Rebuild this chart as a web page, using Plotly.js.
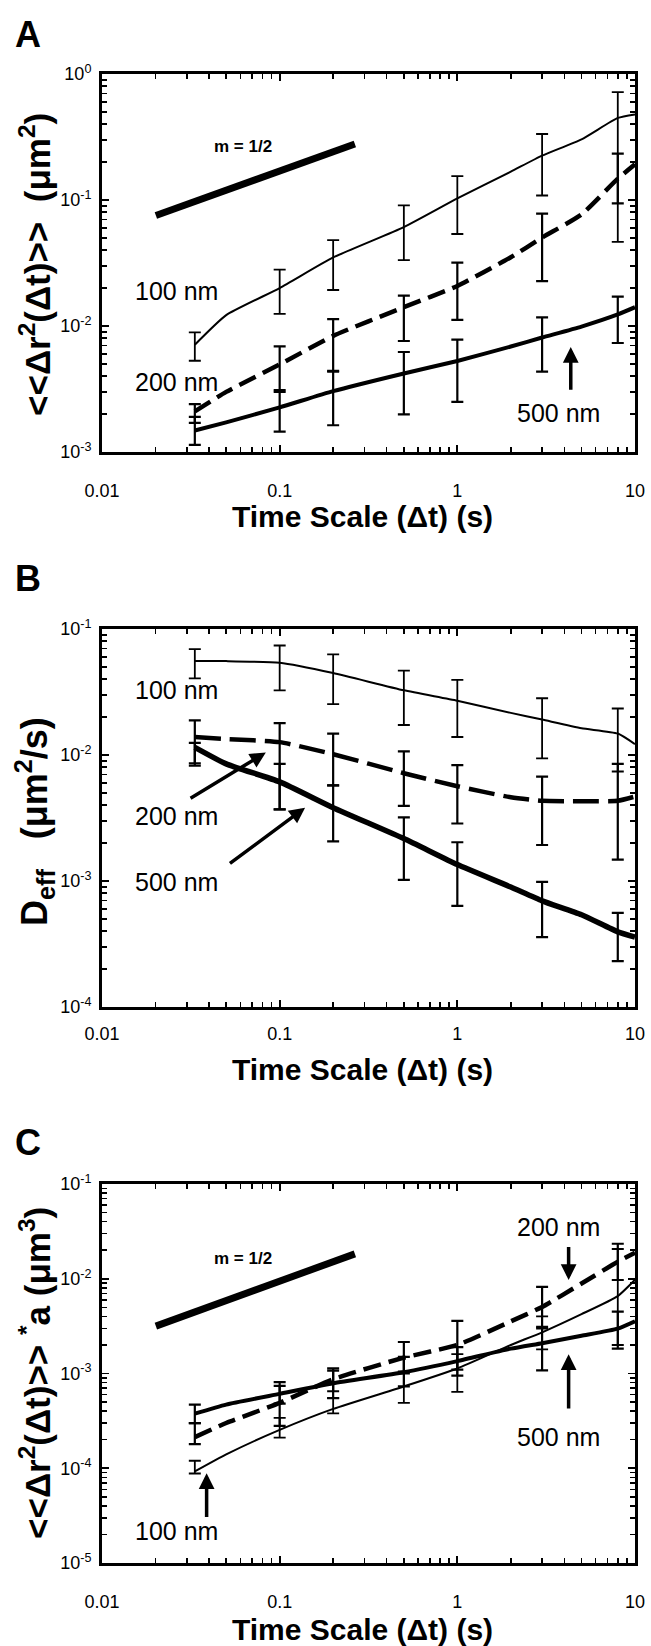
<!DOCTYPE html>
<html>
<head>
<meta charset="utf-8">
<script src="https://cdn.plot.ly/plotly-3.0.1.min.js"></script>
<style>html,body{margin:0;padding:0;background:#fff;}#chart{width:651px;height:1646px;}</style>
</head>
<body>
<div id="chart"></div>
<script>
// ---------- data ----------
const lineT = [0.0333, 0.05, 0.1, 0.2, 0.5, 1, 2, 3, 5, 8, 10];
const errT = [0.0333, 0.1, 0.2, 0.5, 1, 3, 8];
const errIdx = [0, 2, 3, 4, 5, 7, 9];

// Panel A: MSD
const A_100 = [0.0071, 0.0122, 0.020, 0.035, 0.061, 0.103, 0.168, 0.225, 0.303, 0.448, 0.478];
const A_200 = [0.0021, 0.0030, 0.00495, 0.00835, 0.0141, 0.0208, 0.0351, 0.0503, 0.0769, 0.1476, 0.192];
const A_500 = [0.00148, 0.00172, 0.00226, 0.00304, 0.0042, 0.00528, 0.00687, 0.0081, 0.0099, 0.01236, 0.0141];
const A_100_up = [0.0089, 0.028, 0.048, 0.0905, 0.1546, 0.334, 0.717];
const A_100_lo = [0.0053, 0.0125, 0.0193, 0.0333, 0.0537, 0.1086, 0.0465];
const A_200_up = [0.0024, 0.0069, 0.01135, 0.0174, 0.0318, 0.0779, 0.233];
const A_200_lo = [0.0017, 0.0030, 0.00435, 0.0076, 0.0112, 0.0227, 0.094];
const A_500_up = [0.0019, 0.0031, 0.0044, 0.00622, 0.0078, 0.0117, 0.0171];
const A_500_lo = [0.00114, 0.00145, 0.00163, 0.00199, 0.0025, 0.00435, 0.00733];
const A_slopeT = [0.0201, 0.265];
const A_slopeY = [0.0754, 0.278];

// Panel B: D_eff
const B_100 = [0.0556, 0.0556, 0.054, 0.0447, 0.0326, 0.027, 0.0216, 0.0191, 0.0163, 0.0148, 0.0122];
const B_200 = [0.0139, 0.0134, 0.01265, 0.01014, 0.00717, 0.00565, 0.00462, 0.00433, 0.0043, 0.00433, 0.00468];
const B_500 = [0.0115, 0.0085, 0.00612, 0.00382, 0.00217, 0.00135, 0.000895, 0.000696, 0.00054, 0.000395, 0.000359];
const B_100_up = [0.0693, 0.074, 0.063, 0.0467, 0.0394, 0.0282, 0.0234];
const B_100_lo = [0.0406, 0.0326, 0.0253, 0.0173, 0.0139, 0.0094, 0.0074];
const B_200_up = [0.0188, 0.0179, 0.0148, 0.01067, 0.0083, 0.00673, 0.0085];
const B_200_lo = [0.00824, 0.0037, 0.00575, 0.00394, 0.00286, 0.00193, 0.00148];
const B_500_up = [0.0125, 0.0085, 0.00575, 0.0032, 0.00203, 0.000984, 0.000558];
const B_500_lo = [0.0086, 0.0037, 0.00206, 0.00102, 0.000634, 0.000359, 0.000231];

// Panel C: MSD * a
const C_100 = [0.0000925, 0.00014, 0.000254, 0.000423, 0.00073, 0.00113, 0.002, 0.00272, 0.00423, 0.00656, 0.00975];
const C_200 = [0.000213, 0.0003, 0.00049, 0.00087, 0.00147, 0.002, 0.00355, 0.00504, 0.0089, 0.0151, 0.0188];
const C_500 = [0.000377, 0.00047, 0.00061, 0.00079, 0.00103, 0.00135, 0.00183, 0.00209, 0.0025, 0.00297, 0.00355];
const C_100_up = [0.00012, 0.00034, 0.00055, 0.00105, 0.0016, 0.0040, 0.0206];
const C_100_lo = [0.000088, 0.00021, 0.00038, 0.00049, 0.00064, 0.0018, 0.0020];
const C_200_up = [0.00030, 0.00074, 0.00107, 0.00215, 0.0036, 0.0082, 0.0234];
const C_200_lo = [0.00018, 0.00028, 0.00065, 0.0010, 0.0011, 0.0031, 0.0097];
const C_500_up = [0.00047, 0.00081, 0.00113, 0.0015, 0.0019, 0.0030, 0.0045];
const C_500_lo = [0.00030, 0.00048, 0.00055, 0.00073, 0.00095, 0.00108, 0.00183];
const C_slopeT = [0.0201, 0.265];
const C_slopeY = [0.00316, 0.0183];

const xTickVals = [0.01, 0.1, 1, 10];
const xTickLabels = ['0.01', '0.1', '1', '10'];
const yTickValsA = [0.001, 0.01, 0.1, 1];
const yTickLabelsA = ['10<sup>-3</sup>', '10<sup>-2</sup>', '10<sup>-1</sup>', '10<sup>0</sup>'];
const yTickValsB = [0.0001, 0.001, 0.01, 0.1];
const yTickLabelsB = ['10<sup>-4</sup>', '10<sup>-3</sup>', '10<sup>-2</sup>', '10<sup>-1</sup>'];
const yTickValsC = [0.00001, 0.0001, 0.001, 0.01, 0.1];
const yTickLabelsC = ['10<sup>-5</sup>', '10<sup>-4</sup>', '10<sup>-3</sup>', '10<sup>-2</sup>', '10<sup>-1</sup>'];

// ---------- helpers ----------
const FONT = 'Arial, "Liberation Sans", Helvetica, sans-serif';
const W = 651, H = 1646;
const px = v => v / W;
const py = v => 1 - v / H;
const L = Math.log10;

const traces = [];
function addSeries(xa, ya, vals, up, lo, style) {
  traces.push({
    x: lineT, y: vals, xaxis: xa, yaxis: ya, type: 'scatter', mode: 'lines',
    line: Object.assign({color: '#000', shape: 'spline', smoothing: 0.5}, style.line),
    hoverinfo: 'skip', showlegend: false
  });
  const mid = errIdx.map(i => vals[i]);
  traces.push({
    x: errT, y: mid, xaxis: xa, yaxis: ya, type: 'scatter', mode: 'markers',
    marker: {size: 1, color: 'rgba(0,0,0,0)'},
    error_y: {type: 'data', symmetric: false,
      array: up.map((u, i) => u - mid[i]),
      arrayminus: lo.map((l, i) => mid[i] - l),
      color: '#000', thickness: style.err, width: 6},
    hoverinfo: 'skip', showlegend: false
  });
}
function addSlope(xa, ya, xs, ys) {
  traces.push({x: xs, y: ys, xaxis: xa, yaxis: ya, type: 'scatter', mode: 'lines',
    line: {color: '#000', width: 7}, hoverinfo: 'skip', showlegend: false});
}

const s100 = {line: {width: 2}, err: 1.8};
const s200 = {line: {width: 4.5, dash: '18px,8px'}, err: 2.2};
const s200B = {line: {width: 4.5, dash: '26px,9px'}, err: 2.2};
const s500 = {line: {width: 4}, err: 2.2};
const s500B = {line: {width: 5.5}, err: 2.2};

addSlope('x', 'y', A_slopeT, A_slopeY);
addSeries('x', 'y', A_100, A_100_up, A_100_lo, s100);
addSeries('x', 'y', A_200, A_200_up, A_200_lo, s200);
addSeries('x', 'y', A_500, A_500_up, A_500_lo, s500);

addSeries('x2', 'y2', B_100, B_100_up, B_100_lo, s100);
addSeries('x2', 'y2', B_200, B_200_up, B_200_lo, s200B);
addSeries('x2', 'y2', B_500, B_500_up, B_500_lo, s500B);

addSlope('x3', 'y3', C_slopeT, C_slopeY);
addSeries('x3', 'y3', C_100, C_100_up, C_100_lo, s100);
addSeries('x3', 'y3', C_200, C_200_up, C_200_lo, s200);
addSeries('x3', 'y3', C_500, C_500_up, C_500_lo, s500);

// ---------- axes ----------
const XDOM = [px(102), px(635)];
const minorTicks = {ticks: 'inside', ticklen: 5, tickwidth: 1.5, tickcolor: '#000', dtick: 'D1', showgrid: false};

function xAxis(anchor, standoff) {
  return {type: 'log', range: [-2, 1], domain: XDOM, anchor: anchor,
    tickmode: 'array', tickvals: xTickVals, ticktext: xTickLabels,
    ticks: 'inside', ticklen: 7, tickwidth: 1.8, tickcolor: '#000',
    minor: minorTicks,
    showline: true, linewidth: 3, linecolor: '#000', mirror: 'allticks',
    showgrid: false, zeroline: false, ticklabelstandoff: standoff,
    tickfont: {family: FONT, size: 18, color: '#000'}};
}
function yAxis(anchor, vals, labels, top, bottom) {
  return {type: 'log', range: [L(vals[0]), L(vals[vals.length - 1])],
    domain: [py(bottom), py(top)], anchor: anchor,
    tickmode: 'array', tickvals: vals, ticktext: labels,
    ticks: 'inside', ticklen: 7, tickwidth: 1.8, tickcolor: '#000',
    minor: minorTicks,
    showline: true, linewidth: 3, linecolor: '#000', mirror: 'allticks',
    showgrid: false, zeroline: false, ticklabelstandoff: 4,
    tickfont: {family: FONT, size: 18, color: '#000'}};
}

// ---------- annotations ----------
const ann = [];
function txt(xref, yref, x, y, text, size, bold, extra) {
  ann.push(Object.assign({xref: xref, yref: yref, x: x, y: y,
    xanchor: 'center', yanchor: 'middle',
    text: bold ? '<b>' + text + '</b>' : text, showarrow: false,
    font: {family: FONT, size: size, color: '#000'}}, extra || {}));
}
function arrow(xref, yref, tx, ty, hx, hy) {
  ann.push({xref: xref, yref: yref, axref: xref, ayref: yref,
    x: L(hx), y: L(hy), ax: L(tx), ay: L(ty), text: '', showarrow: true,
    arrowhead: 2, arrowsize: 0.9, arrowwidth: 3.5, arrowcolor: '#000'});
}

// panel letters
txt('paper', 'paper', px(28), py(34), 'A', 36, true);
txt('paper', 'paper', px(28), py(578), 'B', 36, true);
txt('paper', 'paper', px(28), py(1142), 'C', 36, true);

// x titles
const xTitle = 'Time Scale (Δt) (s)';
txt('paper', 'paper', px(362), py(517), xTitle, 30, true);
txt('paper', 'paper', px(362), py(1069), xTitle, 30, true);
txt('paper', 'paper', px(362), py(1629), xTitle, 30, true);

// y titles
txt('paper', 'paper', px(35), py(265), '&lt;&lt;Δr<sup>2</sup>(Δt)&gt;&gt;  (μm<sup>2</sup>)', 35, true, {textangle: -90});
txt('paper', 'paper', px(35), py(822), 'D<sub>eff</sub>&nbsp;&nbsp;&nbsp;(μm<sup>2</sup>/s)', 36, true, {textangle: -90});
txt('paper', 'paper', px(35), py(1373), '&lt;&lt;Δr<sup>2</sup>(Δt)&gt;&gt; <sup>*</sup>a (μm<sup>3</sup>)', 35, true, {textangle: -90});

// panel A labels
txt('x', 'y', L(0.0622), L(0.266), 'm = 1/2', 17, true);
txt('x', 'y', L(0.0263), L(0.0189), '100 nm', 25, false);
txt('x', 'y', L(0.0263), L(0.00357), '200 nm', 25, false);
txt('x', 'y', L(3.70), L(0.00205), '500 nm', 25, false);
arrow('x', 'y', 4.35, 0.00304, 4.35, 0.0068);

// panel B labels
txt('x2', 'y2', L(0.0263), L(0.0326), '100 nm', 25, false);
txt('x2', 'y2', L(0.0263), L(0.00327), '200 nm', 25, false);
txt('x2', 'y2', L(0.0263), L(0.000984), '500 nm', 25, false);
arrow('x2', 'y2', 0.0309, 0.00447, 0.0836, 0.01047);
arrow('x2', 'y2', 0.0515, 0.00135, 0.139, 0.00382);

// panel C labels
txt('x3', 'y3', L(0.0622), L(0.01652), 'm = 1/2', 17, true);
txt('x3', 'y3', L(3.70), L(0.0348), '200 nm', 25, false);
txt('x3', 'y3', L(3.70), L(0.000213), '500 nm', 25, false);
txt('x3', 'y3', L(0.0263), L(0.0000217), '100 nm', 25, false);
arrow('x3', 'y3', 4.23, 0.02245, 4.23, 0.0097);
arrow('x3', 'y3', 4.23, 0.000412, 4.23, 0.0016);
arrow('x3', 'y3', 0.0388, 0.0000295, 0.0388, 0.0000885);

const layout = {
  width: W, height: H, margin: {l: 0, r: 0, t: 0, b: 0},
  paper_bgcolor: '#fff', plot_bgcolor: '#fff', showlegend: false,
  font: {family: FONT, color: '#000'},
  xaxis: xAxis('y', 20), yaxis: yAxis('x', yTickValsA, yTickLabelsA, 74, 452),
  xaxis2: xAxis('y2', 8), yaxis2: yAxis('x2', yTickValsB, yTickLabelsB, 629, 1007),
  xaxis3: xAxis('y3', 20), yaxis3: yAxis('x3', yTickValsC, yTickLabelsC, 1184, 1563),
  annotations: ann
};

Plotly.newPlot('chart', traces, layout, {staticPlot: true, displayModeBar: false});
</script>
</body>
</html>
